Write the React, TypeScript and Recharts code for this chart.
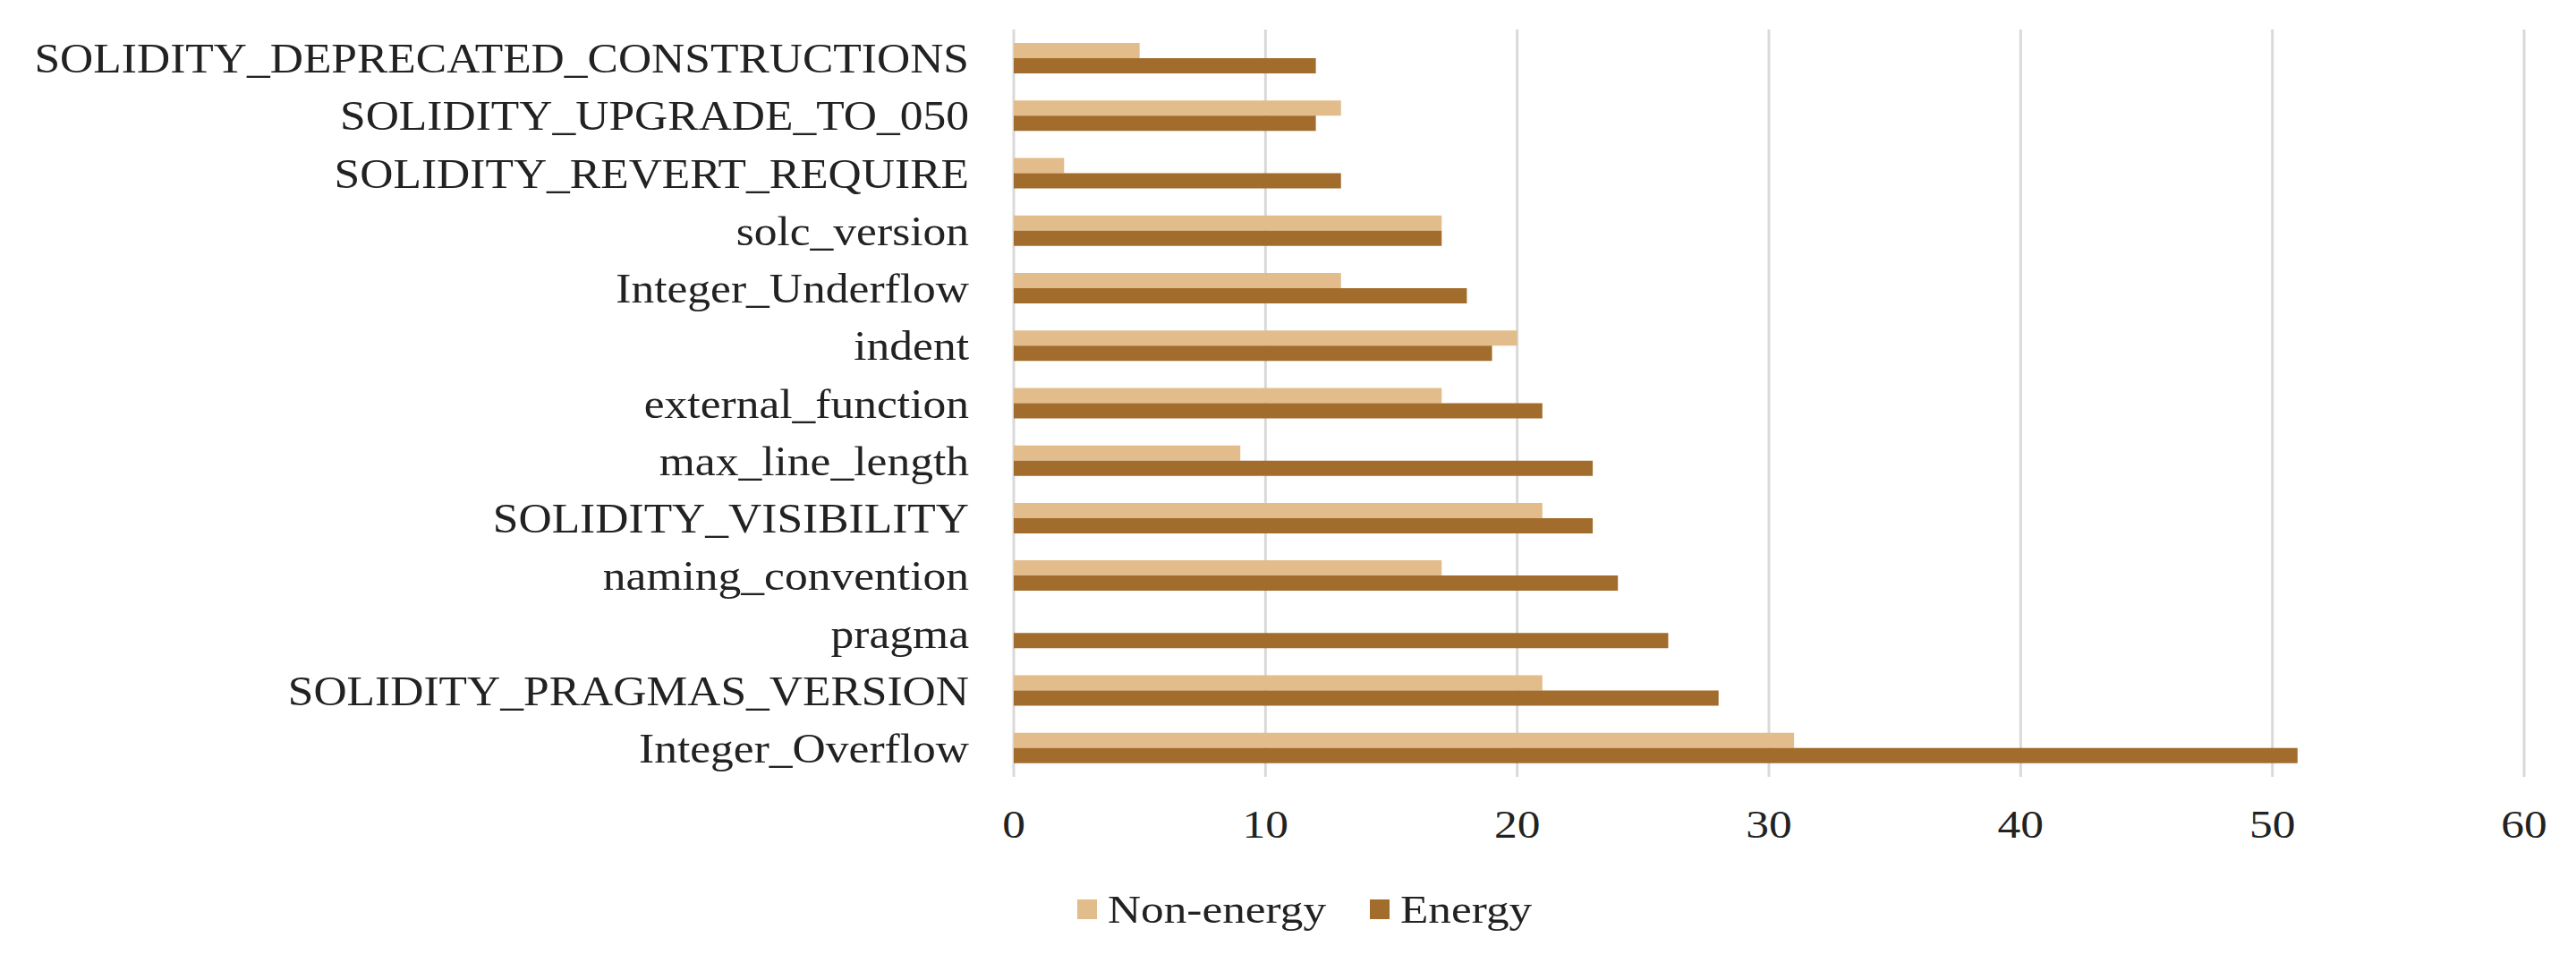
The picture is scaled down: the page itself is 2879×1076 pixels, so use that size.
import React from "react"
import { Bar, BarChart, CartesianGrid, Legend, XAxis, YAxis } from "recharts"

// rule names, top to bottom
const categories = [
  "SOLIDITY_DEPRECATED_CONSTRUCTIONS",
  "SOLIDITY_UPGRADE_TO_050",
  "SOLIDITY_REVERT_REQUIRE",
  "solc_version",
  "Integer_Underflow",
  "indent",
  "external_function",
  "max_line_length",
  "SOLIDITY_VISIBILITY",
  "naming_convention",
  "pragma",
  "SOLIDITY_PRAGMAS_VERSION",
  "Integer_Overflow",
]

const nonEnergy = [5, 13, 2, 17, 13, 20, 17, 9, 21, 17, 0, 21, 31]
const energy = [12, 12, 13, 17, 18, 19, 21, 23, 23, 24, 26, 28, 51]

const xTicks = [0, 10, 20, 30, 40, 50, 60]

const NON_ENERGY_COLOR = "#E2BC8B"
const ENERGY_COLOR = "#A16C2C"
const TEXT_COLOR = "#222222"
const FONT = "'Liberation Serif', 'Times New Roman', serif"

const chartData = categories.map((name, i) => ({
  name,
  nonEnergy: nonEnergy[i],
  energy: energy[i],
}))

function CategoryTick({ x, y, payload }: any) {
  return (
    <g transform={`translate(${x},${y})`}>
      <text
        transform="scale(1.12,1)"
        textAnchor="end"
        dy="0.35em"
        fontSize={46}
        fontFamily={FONT}
        fill={TEXT_COLOR}
      >
        {payload.value}
      </text>
    </g>
  )
}

function ValueTick({ x, y, payload }: any) {
  return (
    <g transform={`translate(${x},${y})`}>
      <text
        transform="scale(1.17,1)"
        textAnchor="middle"
        dy="0.71em"
        fontSize={44}
        fontFamily={FONT}
        fill={TEXT_COLOR}
      >
        {payload.value}
      </text>
    </g>
  )
}

const legendItems = [
  { label: "Non-energy", color: NON_ENERGY_COLOR, width: 243 },
  { label: "Energy", color: ENERGY_COLOR, width: 147 },
]

function ChartLegend() {
  return (
    <div style={{ display: "flex", alignItems: "center", fontFamily: FONT, color: TEXT_COLOR }}>
      {legendItems.map((item, i) => (
        <div key={item.label} style={{ display: "flex", alignItems: "center", marginRight: i === 0 ? 50 : 0 }}>
          <div style={{ width: 22, height: 22, background: item.color, marginRight: 12 }} />
          <span
            style={{
              fontSize: 45,
              display: "inline-block",
              transform: "scaleX(1.14)",
              transformOrigin: "left center",
              width: item.width,
              whiteSpace: "nowrap",
            }}
          >
            {item.label}
          </span>
        </div>
      ))}
    </div>
  )
}

export default function App() {
  return (
    <div style={{ position: "absolute", left: 0, top: 0, background: "#fff" }}>
      <BarChart
        width={2879}
        height={1076}
        data={chartData}
        layout="vertical"
        margin={{ top: 33, right: 58, left: 0, bottom: 148 }}
        barCategoryGap="23.4%"
        barGap={0}
      >
        <CartesianGrid horizontal={false} stroke="#D9D9D9" strokeWidth={3} />
        <XAxis
          type="number"
          domain={[0, 60]}
          ticks={xTicks}
          axisLine={false}
          tickLine={false}
          tickSize={0}
          tickMargin={37}
          height={60}
          tick={<ValueTick />}
          interval={0}
        />
        <YAxis
          type="category"
          dataKey="name"
          width={1133}
          axisLine={false}
          tickLine={false}
          tickSize={0}
          tickMargin={50}
          tick={<CategoryTick />}
          interval={0}
        />
        <Legend
          verticalAlign="middle"
          align="center"
          content={<ChartLegend />}
          wrapperStyle={{ top: 990, left: 1204, width: "auto", height: "auto" }}
        />
        <Bar dataKey="nonEnergy" name="Non-energy" fill={NON_ENERGY_COLOR} isAnimationActive={false} />
        <Bar dataKey="energy" name="Energy" fill={ENERGY_COLOR} isAnimationActive={false} />
      </BarChart>
    </div>
  )
}
